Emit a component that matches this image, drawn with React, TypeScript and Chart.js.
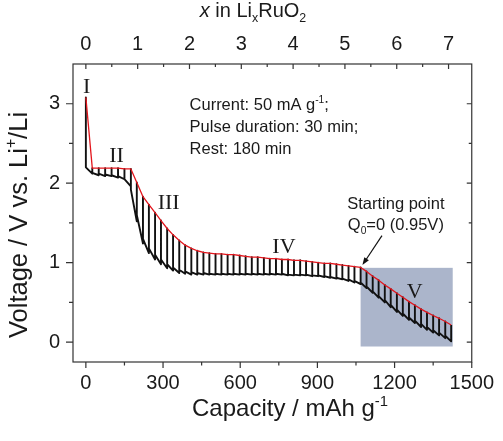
import React, { useEffect, useRef } from 'react';
import { Chart, registerables } from 'chart.js';

Chart.register(...registerables);

// ---------- data ----------
const startCapacity = 0;
const startVoltage = 3.08;

// capacity (mAh/g) at the end of each current pulse
const pulseEndCapacity = [
  25, 50, 75, 100, 125, 150, 175,
  198, 222, 245, 269, 292, 316, 339, 363, 386, 410,
  433, 457, 480, 504, 527, 551, 574, 598, 621, 645,
  668, 692, 715, 739, 762, 786, 809, 833, 856, 880,
  903, 927, 950, 974, 997, 1021, 1044, 1068, 1091, 1115,
  1138, 1162, 1185, 1209, 1232, 1256, 1279, 1303, 1326, 1350,
  1373, 1397, 1420,
];
// relaxed (open-circuit) voltage after each rest period (red curve)
const relaxedVoltage = [
  2.19, 2.19, 2.19, 2.19, 2.19, 2.18, 2.18,
  2.01, 1.83, 1.73, 1.63, 1.53, 1.43, 1.35, 1.28, 1.22, 1.18,
  1.15, 1.13, 1.12, 1.11, 1.11, 1.10, 1.10, 1.09, 1.08, 1.07,
  1.07, 1.06, 1.05, 1.05, 1.04, 1.04, 1.03, 1.03, 1.02, 1.01,
  1.00, 0.99, 0.99, 0.98, 0.97, 0.96, 0.95, 0.94, 0.89, 0.83,
  0.78, 0.72, 0.67, 0.615, 0.565, 0.51, 0.465, 0.415, 0.375, 0.335,
  0.30, 0.26, 0.215,
];
// voltage just after the current is switched on (start of each pulse)
const onsetVoltage = [
  2.20, 2.13, 2.12, 2.11, 2.10, 2.09, 2.05,
  1.92, 1.60, 1.30, 1.18, 1.10, 1.04, 0.98, 0.94, 0.91, 0.89,
  0.88, 0.87, 0.87, 0.86, 0.86, 0.86, 0.86, 0.86, 0.86, 0.86,
  0.86, 0.86, 0.86, 0.86, 0.86, 0.86, 0.85, 0.85, 0.85, 0.85,
  0.84, 0.84, 0.83, 0.82, 0.81, 0.80, 0.79, 0.77, 0.75, 0.70,
  0.64, 0.58, 0.53, 0.47, 0.41, 0.36, 0.31, 0.27, 0.23, 0.19,
  0.15, 0.12, 0.08,
];
// voltage at the end of each pulse (closed-circuit, bottom of each tooth)
const endOfPulseVoltage = [
  2.12, 2.10, 2.09, 2.09, 2.07, 2.05, 1.96,
  1.52, 1.24, 1.12, 1.04, 0.98, 0.93, 0.90, 0.87, 0.86, 0.85,
  0.85, 0.85, 0.85, 0.85, 0.85, 0.85, 0.85, 0.85, 0.85, 0.85,
  0.85, 0.85, 0.85, 0.85, 0.85, 0.84, 0.84, 0.84, 0.84, 0.83,
  0.83, 0.82, 0.81, 0.80, 0.79, 0.77, 0.75, 0.73, 0.68, 0.62,
  0.56, 0.50, 0.44, 0.38, 0.33, 0.28, 0.24, 0.19, 0.155, 0.12,
  0.085, 0.05, 0.01,
];

// axes
const capacityMin = -50;
const capacityMax = 1500;
const voltageMin = -0.25;
const voltageMax = 3.5;
const capacityPerLi = 201.4; // mAh/g per Li in RuO2
const capacityTicks = [0, 300, 600, 900, 1200, 1500];
const capacityMinorTicks = [150, 450, 750, 1050, 1350];
const liTicks = [0, 1, 2, 3, 4, 5, 6, 7];
const liMinorTicks = [0.5, 1.5, 2.5, 3.5, 4.5, 5.5, 6.5];
const voltageTicks = [0, 1, 2, 3];
const voltageMinorTicks = [0.5, 1.5, 2.5];

// shaded region V
const regionCapacity = [1068, 1426];
const regionVoltage = [-0.055, 0.935];

// region labels
const regionNames = ['I', 'II', 'III', 'IV', 'V'];
const regionLabelCapacity = [3, 119, 322, 770, 1278];
const regionLabelVoltage = [3.21, 2.34, 1.75, 1.2, 0.63];

// arrow: from text to starting point
const arrowCapacity = [1151, 1075];
const arrowVoltage = [1.34, 0.97];

const SANS = "'Liberation Sans', Arial, Helvetica, sans-serif";
const SERIF = "'Liberation Serif', 'Times New Roman', serif";
const TEXT = '#1a1a1a';

type Seg = { t: string; sup?: boolean; sub?: boolean; italic?: boolean };

function drawRich(
  ctx: CanvasRenderingContext2D,
  segs: Seg[],
  x: number,
  y: number,
  size: number,
  align: 'left' | 'center'
) {
  const small = size * 0.62;
  const fontOf = (s: Seg) =>
    `${s.italic ? 'italic ' : ''}${s.sup || s.sub ? small : size}px ${SANS}`;
  let w = 0;
  for (const s of segs) {
    ctx.font = fontOf(s);
    w += ctx.measureText(s.t).width;
  }
  let cx = align === 'center' ? x - w / 2 : x;
  ctx.textAlign = 'left';
  ctx.textBaseline = 'alphabetic';
  for (const s of segs) {
    ctx.font = fontOf(s);
    const dy = s.sup ? -size * 0.42 : s.sub ? size * 0.24 : 0;
    ctx.fillText(s.t, cx, y + dy);
    cx += ctx.measureText(s.t).width;
  }
}

export default function App() {
  const ref = useRef<HTMLCanvasElement>(null);

  useEffect(() => {
    const canvas = ref.current;
    if (!canvas) return;

    const black: { x: number; y: number }[] = [{ x: startCapacity, y: startVoltage }];
    let prev = startCapacity;
    for (let i = 0; i < pulseEndCapacity.length; i++) {
      black.push({ x: prev, y: onsetVoltage[i] });
      black.push({ x: pulseEndCapacity[i], y: endOfPulseVoltage[i] });
      black.push({ x: pulseEndCapacity[i], y: relaxedVoltage[i] });
      prev = pulseEndCapacity[i];
    }
    const red = [
      { x: startCapacity, y: startVoltage },
      ...pulseEndCapacity.map((q, i) => ({ x: q, y: relaxedVoltage[i] })),
    ];

    const overlay = {
      id: 'overlay',
      beforeDatasetsDraw(chart: any) {
        const ctx: CanvasRenderingContext2D = chart.ctx;
        const xs = chart.scales.x;
        const ys = chart.scales.y;
        const x0 = xs.getPixelForValue(regionCapacity[0]);
        const x1 = xs.getPixelForValue(regionCapacity[1]);
        const y0 = ys.getPixelForValue(regionVoltage[1]);
        const y1 = ys.getPixelForValue(regionVoltage[0]);
        ctx.save();
        ctx.fillStyle = '#abb5cb';
        ctx.fillRect(x0, y0, x1 - x0, y1 - y0);
        ctx.restore();
      },
      afterDraw(chart: any) {
        const ctx: CanvasRenderingContext2D = chart.ctx;
        const xs = chart.scales.x;
        const x2 = chart.scales.x2;
        const ys = chart.scales.y;
        const { left, right, top, bottom } = chart.chartArea;
        ctx.save();
        // frame
        ctx.strokeStyle = '#333';
        ctx.lineWidth = 1.2;
        ctx.strokeRect(left, top, right - left, bottom - top);
        ctx.beginPath();
        const hTick = (px: number, yA: number, len: number) => {
          ctx.moveTo(px, yA);
          ctx.lineTo(px, yA + len);
        };
        const vTick = (py: number, xA: number, len: number) => {
          ctx.moveTo(xA, py);
          ctx.lineTo(xA + len, py);
        };
        capacityTicks.forEach((v) => hTick(xs.getPixelForValue(v), bottom, 6));
        capacityMinorTicks.forEach((v) => hTick(xs.getPixelForValue(v), bottom, 3.5));
        liTicks.forEach((v) => hTick(x2.getPixelForValue(v), top, 5));
        liMinorTicks.forEach((v) => hTick(x2.getPixelForValue(v), top, 3));
        voltageTicks.forEach((v) => {
          vTick(ys.getPixelForValue(v), left, -7);
          vTick(ys.getPixelForValue(v), right, -5);
        });
        voltageMinorTicks.forEach((v) => {
          vTick(ys.getPixelForValue(v), left, -4);
          vTick(ys.getPixelForValue(v), right, -3);
        });
        ctx.stroke();

        ctx.fillStyle = TEXT;
        // axis titles
        drawRich(ctx, [{ t: 'Capacity / mAh g' }, { t: '-1', sup: true }], 290, 416, 24, 'center');
        drawRich(
          ctx,
          [{ t: 'x', italic: true }, { t: ' in Li' }, { t: 'x', sub: true }, { t: 'RuO' }, { t: '2', sub: true }],
          253,
          17,
          20,
          'center'
        );
        ctx.save();
        ctx.translate(27, 225);
        ctx.rotate(-Math.PI / 2);
        drawRich(ctx, [{ t: 'Voltage / V vs. Li' }, { t: '+', sup: true }, { t: '/Li' }], 0, 0, 25.5, 'center');
        ctx.restore();

        // experiment text
        const tx = xs.getPixelForValue(403);
        drawRich(ctx, [{ t: 'Current: 50 mA g' }, { t: '-1', sup: true }, { t: ';' }], tx, ys.getPixelForValue(2.92), 16.5, 'left');
        drawRich(ctx, [{ t: 'Pulse duration: 30 min;' }], tx, ys.getPixelForValue(2.645), 16.5, 'left');
        drawRich(ctx, [{ t: 'Rest: 180 min' }], tx, ys.getPixelForValue(2.37), 16.5, 'left');

        // starting point annotation
        const sx = xs.getPixelForValue(1205);
        drawRich(ctx, [{ t: 'Starting point' }], sx, ys.getPixelForValue(1.68), 16.5, 'center');
        drawRich(ctx, [{ t: 'Q' }, { t: '0', sub: true }, { t: '=0 (0.95V)' }], sx, ys.getPixelForValue(1.41), 16.5, 'center');

        // arrow
        const ax0 = xs.getPixelForValue(arrowCapacity[0]);
        const ay0 = ys.getPixelForValue(arrowVoltage[0]);
        const ax1 = xs.getPixelForValue(arrowCapacity[1]);
        const ay1 = ys.getPixelForValue(arrowVoltage[1]);
        const ang = Math.atan2(ay1 - ay0, ax1 - ax0);
        const head = 8;
        ctx.strokeStyle = '#111';
        ctx.lineWidth = 1.2;
        ctx.beginPath();
        ctx.moveTo(ax0, ay0);
        ctx.lineTo(ax1 - Math.cos(ang) * head * 0.8, ay1 - Math.sin(ang) * head * 0.8);
        ctx.stroke();
        ctx.fillStyle = '#111';
        ctx.beginPath();
        ctx.moveTo(ax1, ay1);
        ctx.lineTo(ax1 - Math.cos(ang - 0.35) * head, ay1 - Math.sin(ang - 0.35) * head);
        ctx.lineTo(ax1 - Math.cos(ang + 0.35) * head, ay1 - Math.sin(ang + 0.35) * head);
        ctx.closePath();
        ctx.fill();

        // region labels
        ctx.fillStyle = TEXT;
        ctx.font = `22px ${SERIF}`;
        ctx.textAlign = 'center';
        ctx.textBaseline = 'middle';
        regionNames.forEach((n, i) => {
          ctx.fillText(n, xs.getPixelForValue(regionLabelCapacity[i]), ys.getPixelForValue(regionLabelVoltage[i]));
        });
        ctx.restore();
      },
    };

    const tickFont = { family: SANS, size: 20 };

    const chart = new Chart(canvas, {
      type: 'line',
      data: {
        datasets: [
          {
            data: red,
            borderColor: '#e3161d',
            borderWidth: 1.3,
            pointRadius: 0,
            fill: false,
            tension: 0,
            borderJoinStyle: 'round',
          },
          {
            data: black,
            borderColor: '#111111',
            borderWidth: 1.9,
            pointRadius: 0,
            fill: false,
            tension: 0,
            borderJoinStyle: 'round',
          },
        ],
      },
      options: {
        animation: false,
        responsive: false,
        devicePixelRatio: 1,
        layout: { padding: { left: 0, right: 30, top: 0, bottom: 0 } },
        plugins: { legend: { display: false }, tooltip: { enabled: false } },
        scales: {
          x: {
            type: 'linear',
            position: 'bottom',
            min: capacityMin,
            max: capacityMax,
            afterFit: (s: any) => {
              s.height = 79;
            },
            afterBuildTicks: (s: any) => {
              s.ticks = capacityTicks.map((v) => ({ value: v }));
            },
            ticks: { font: tickFont, color: TEXT, padding: 9, maxRotation: 0, autoSkip: false, callback: (v: any) => String(v) },
            grid: { display: false, drawTicks: false },
            border: { display: false },
          },
          x2: {
            type: 'linear',
            position: 'top',
            min: capacityMin / capacityPerLi,
            max: capacityMax / capacityPerLi,
            afterFit: (s: any) => {
              s.height = 64;
            },
            afterBuildTicks: (s: any) => {
              s.ticks = liTicks.map((v) => ({ value: v }));
            },
            ticks: { font: tickFont, color: TEXT, padding: 8, maxRotation: 0, autoSkip: false, callback: (v: any) => String(v) },
            grid: { display: false, drawTicks: false },
            border: { display: false },
          },
          y: {
            type: 'linear',
            position: 'left',
            min: voltageMin,
            max: voltageMax,
            afterFit: (s: any) => {
              s.width = 73;
            },
            afterBuildTicks: (s: any) => {
              s.ticks = voltageTicks.map((v) => ({ value: v }));
            },
            ticks: { font: tickFont, color: TEXT, padding: 13, autoSkip: false, callback: (v: any) => String(v) },
            grid: { display: false, drawTicks: false },
            border: { display: false },
          },
        },
      },
      plugins: [overlay],
    } as any);

    return () => chart.destroy();
  }, []);

  return (
    <div style={{ position: 'absolute', left: 0, top: 0, width: 503, height: 441 }}>
      <canvas ref={ref} width={503} height={441} style={{ display: 'block' }} />
    </div>
  );
}
